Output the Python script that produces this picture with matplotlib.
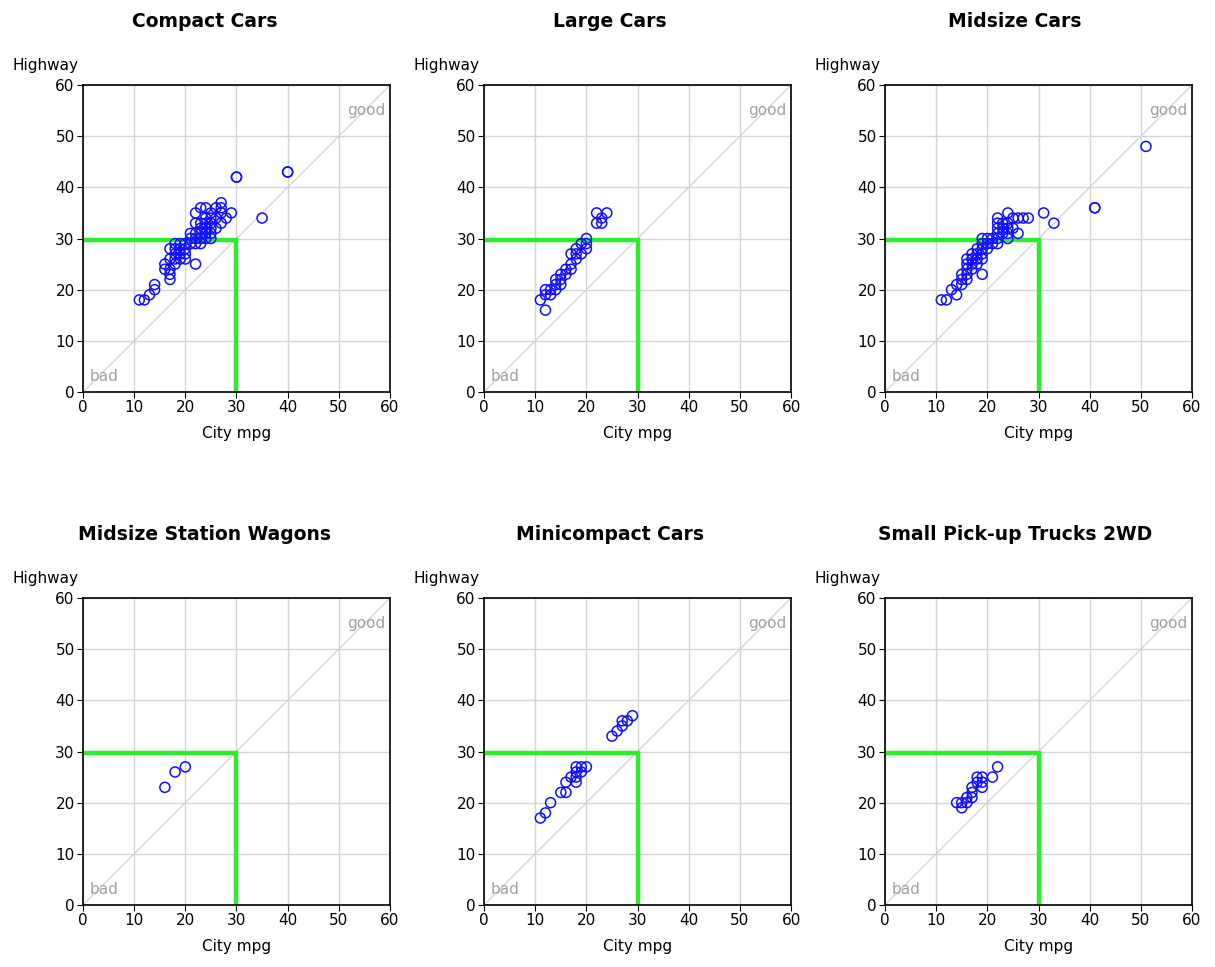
import numpy as np
import matplotlib.pyplot as plt

titles = ['Compact Cars', 'Large Cars', 'Midsize Cars',
          'Midsize Station Wagons', 'Minicompact Cars', 'Small Pick-up Trucks 2WD']

compact = [(11,18),(12,18),(13,19),(14,20),(14,21),(16,24),(16,25),(17,22),(17,23),(17,24),
           (17,26),(17,28),(18,25),(18,26),(18,27),(18,28),(18,29),(19,26),(19,27),(19,28),
           (19,29),(20,26),(20,27),(20,28),(20,29),(21,29),(21,30),(21,31),(22,25),(22,29),
           (22,30),(22,31),(22,33),(22,35),(23,29),(23,30),(23,31),(23,32),(23,33),(23,36),
           (24,30),(24,31),(24,32),(24,33),(24,34),(24,36),(25,30),(25,31),(25,32),(25,33),
           (25,34),(25,35),(26,32),(26,34),(26,36),(27,33),(27,35),(27,36),(27,37),(28,34),
           (29,35),(30,42),(30,42),(35,34),(40,43),(40,43)]
large = [(11,18),(12,19),(12,20),(12,16),(13,19),(13,20),(14,20),(14,21),(14,22),(15,21),
         (15,22),(15,23),(16,23),(16,24),(17,24),(17,25),(17,27),(18,26),(18,27),(18,28),
         (19,27),(19,29),(20,28),(20,29),(20,30),(22,33),(22,35),(23,33),(23,34),(24,35)]
midsize = [(11,18),(12,18),(13,20),(14,19),(14,21),(15,21),(15,22),(15,23),(16,22),(16,23),
           (16,24),(16,25),(16,26),(17,24),(17,25),(17,26),(17,27),(18,25),(18,26),(18,27),
           (18,28),(19,23),(19,26),(19,27),(19,28),(19,29),(19,30),(20,28),(20,29),(20,30),
           (21,29),(21,30),(22,29),(22,30),(22,31),(22,32),(22,33),(22,34),(23,31),(23,32),
           (23,33),(24,30),(24,31),(24,32),(24,33),(24,35),(25,32),(25,34),(26,31),(26,34),
           (27,34),(28,34),(31,35),(33,33),(41,36),(41,36),(51,48)]
wagons = [(16,23),(18,26),(20,27)]
minicompact = [(11,17),(12,18),(13,20),(15,22),(16,22),(16,24),(17,25),(18,24),(18,25),(18,26),
               (18,27),(19,26),(19,27),(20,27),(25,33),(26,34),(27,35),(27,36),(28,36),(29,37)]
pickup = [(14,20),(15,20),(15,19),(16,20),(16,21),(17,21),(17,22),(17,23),(18,24),(18,25),
          (19,25),(19,24),(19,23),(21,25),(22,27)]

groups = [compact, large, midsize, wagons, minicompact, pickup]
target = 30

fig = plt.figure(figsize=(12.15, 9.67), dpi=100)
lefts = [0.0683, 0.3984, 0.7284]
bottoms = [0.5946, 0.0641]
w, h = 0.2527, 0.3175

for i, (title, pts) in enumerate(zip(titles, groups)):
    r, c = divmod(i, 3)
    ax = fig.add_axes([lefts[c], bottoms[r], w, h])
    pts = np.array(pts)
    ax.set_xlim(0, 60)
    ax.set_ylim(0, 60)
    ax.set_xticks(range(0, 61, 10))
    ax.set_yticks(range(0, 61, 10))
    ax.grid(True, color='#d4d4d4', lw=1)
    ax.set_axisbelow(True)
    ax.plot([0, 60], [0, 60], color='#cccccc', lw=0.8, zorder=1)
    ax.plot([0, target, target], [target - 0.3, target - 0.3, 0], color='#2aee2a', lw=3.2,
            solid_joinstyle='miter', zorder=2)
    ax.scatter(pts[:, 0], pts[:, 1], s=52, facecolors='none', edgecolors='#1010ff',
               linewidths=1.1, zorder=3)
    ax.text(59, 55, 'good', color='#a0a0a0', fontsize=11, ha='right', va='center')
    ax.text(1.2, 3, 'bad', color='#a0a0a0', fontsize=11, ha='left', va='center')
    ax.text(-0.016, 1.065, 'Highway', transform=ax.transAxes, ha='right', va='center', fontsize=11)
    ax.set_xlabel('City mpg', fontsize=11, labelpad=8)
    ax.tick_params(labelsize=11, length=4, direction='out', pad=2)
    for s in ax.spines.values():
        s.set_linewidth(1.2)
    fig.text((c * 405 + 205) / 1215, bottoms[r] + h + 0.066, title,
             ha='center', va='center', fontsize=13.5, fontweight='bold')

fig.savefig('out.png', dpi=100)
